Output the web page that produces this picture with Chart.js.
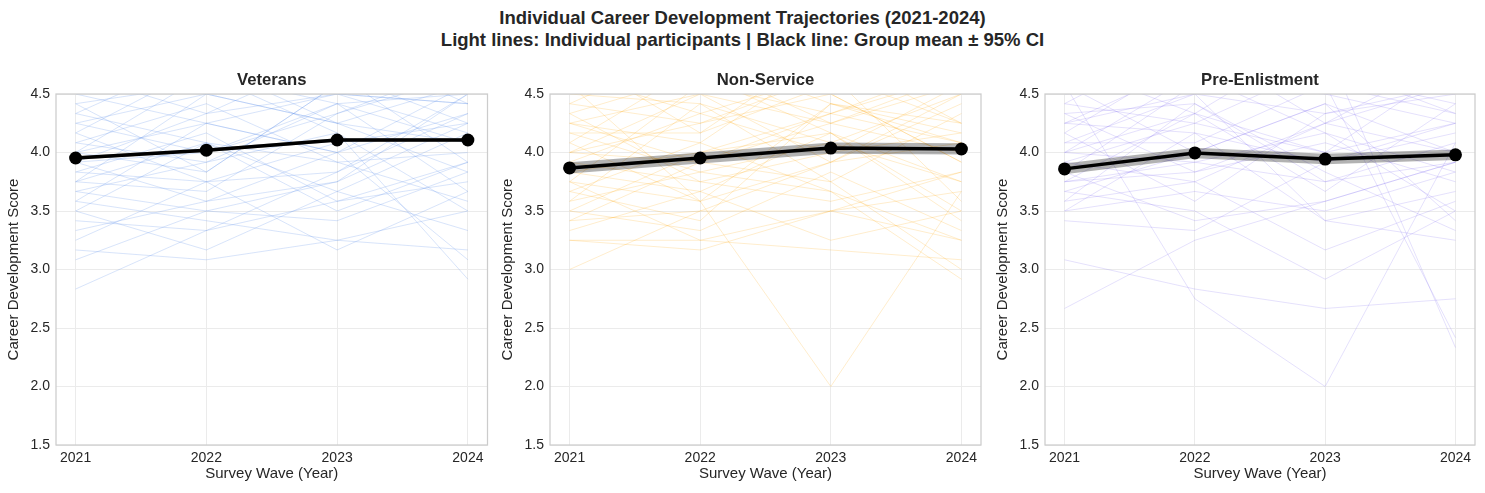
<!DOCTYPE html>
<html>
<head>
<meta charset="utf-8">
<script src="https://cdn.jsdelivr.net/npm/chart.js@4.4.0/dist/chart.umd.min.js"></script>
<style>
  body { margin: 0; background: #fff; }
  #page { position: relative; width: 1485px; height: 493px; font-family: "Liberation Sans", Arial, sans-serif; color: #262626; }
  .sup { position: absolute; left: 0; width: 1485px; text-align: center; font-weight: bold; font-size: 18.5px; line-height: 22px; }
  .panel { position: absolute; top: 60px; height: 433px; }
</style>
</head>
<body>
<div id="page">
  <div class="sup" style="top:7px">Individual Career Development Trajectories (2021-2024)</div>
  <div class="sup" style="top:29px">Light lines: Individual participants | Black line: Group mean ± 95% CI</div>
  <div class="panel" style="left:0;width:494px"><canvas id="panel0"></canvas></div>
  <div class="panel" style="left:494px;width:495px"><canvas id="panel1"></canvas></div>
  <div class="panel" style="left:989px;width:496px"><canvas id="panel2"></canvas></div>
</div>
<script>
const years = [2021, 2022, 2023, 2024];
const yTicks = [1.5, 2.0, 2.5, 3.0, 3.5, 4.0, 4.5];
const groupNames = ['Veterans', 'Non-Service', 'Pre-Enlistment'];

// individual participants, one row per person: 2021, 2022, 2023, 2024
const veteransLines = [
  [2.833, 3.333, 3.583, 3.917], [3.083, 3.5, 3.75, 4.25], [3.167, 3.083, 3.25, 3.5],
  [3.25, 3.75, 3.167, 3.667], [3.333, 3.583, 4.0, 3.083], [3.417, 3.333, 3.833, 4.5],
  [3.5, 4.083, 3.5, 3.917], [3.5, 3.167, 3.667, 3.333], [3.583, 4.25, 4.0, 4.333],
  [3.667, 3.917, 4.167, 2.917], [3.667, 3.5, 3.417, 3.833], [3.75, 4.5, 4.25, 4.083],
  [3.75, 3.667, 4.333, 4.667], [3.833, 4.167, 3.583, 3.75], [3.833, 3.75, 4.083, 4.25],
  [3.917, 4.333, 4.5, 4.167], [3.917, 3.583, 3.75, 4.5], [4.0, 4.667, 4.167, 3.5],
  [4.0, 3.833, 4.583, 4.833], [4.083, 4.417, 3.917, 4.0], [4.083, 3.917, 4.417, 3.667],
  [4.167, 4.75, 4.25, 4.583], [4.167, 3.75, 3.833, 4.333], [4.25, 4.5, 4.667, 3.917],
  [4.25, 4.0, 4.333, 4.75], [4.333, 4.833, 4.5, 4.417], [4.333, 4.083, 3.667, 4.167],
  [4.417, 3.833, 4.583, 5.0], [4.417, 4.583, 4.917, 4.417], [4.5, 4.25, 4.0, 4.583],
  [4.583, 5.0, 4.667, 4.25], [4.667, 4.333, 4.833, 4.917], [4.75, 4.5, 4.25, 3.833],
  [4.833, 4.917, 5.0, 4.667], [4.917, 4.667, 4.417, 4.5], [5.0, 4.75, 4.75, 5.0],
  [3.583, 3.417, 3.25, 3.167], [3.917, 4.0, 4.417, 4.083], [4.0, 4.25, 4.5, 4.417],
  [3.75, 4.083, 3.917, 3.583]
];
const nonServiceLines = [
  [3.0, 3.5, 3.917, 4.5], [3.25, 3.25, 3.167, 3.083], [3.25, 3.167, 3.5, 3.25],
  [3.417, 3.5, 3.5, 3.667], [3.417, 3.917, 4.25, 4.583], [3.5, 3.333, 3.833, 3.333],
  [3.583, 4.417, 3.75, 3.0], [3.583, 3.833, 4.083, 3.75], [3.667, 3.417, 4.417, 4.25],
  [3.667, 4.083, 3.667, 2.917], [3.75, 3.583, 3.917, 4.083], [3.75, 4.583, 4.5, 3.917],
  [3.833, 3.667, 4.167, 3.5], [3.833, 4.0, 4.333, 4.75], [3.917, 3.75, 3.583, 3.833],
  [3.917, 4.333, 4.0, 4.167], [4.0, 4.25, 4.667, 3.583], [4.0, 3.917, 3.75, 4.333],
  [4.083, 4.75, 4.25, 4.0], [4.083, 3.583, 4.417, 4.083], [4.167, 4.167, 4.583, 4.833],
  [4.167, 3.833, 3.667, 3.25], [4.25, 4.5, 3.917, 4.417], [4.25, 4.083, 4.833, 4.25],
  [4.333, 4.667, 4.167, 3.75], [4.333, 3.75, 4.0, 4.583], [4.417, 4.917, 4.75, 4.917],
  [4.417, 4.25, 4.5, 3.917], [4.5, 4.417, 4.083, 4.5], [4.583, 3.583, 2.0, 3.667],
  [4.667, 4.333, 4.667, 4.25], [4.75, 4.583, 4.333, 4.667], [4.833, 4.167, 4.917, 5.0],
  [5.0, 4.833, 4.417, 4.167], [4.917, 5.0, 5.0, 4.75], [3.333, 3.667, 3.25, 3.5],
  [3.5, 4.0, 4.167, 3.417], [4.0, 4.5, 4.25, 4.667], [3.75, 3.25, 3.5, 3.833],
  [4.25, 3.917, 4.333, 4.083]
];
const preEnlistmentLines = [
  [2.667, 3.25, 3.583, 3.917], [3.083, 2.833, 2.667, 2.75], [4.583, 2.75, 2.0, 4.083],
  [3.417, 3.333, 3.917, 4.25], [3.5, 4.167, 3.417, 3.25], [3.583, 3.75, 4.25, 4.583],
  [3.583, 4.417, 3.833, 3.333], [3.667, 3.5, 2.917, 3.5], [3.667, 4.0, 4.417, 4.0],
  [3.75, 4.333, 3.667, 4.417], [3.75, 3.833, 4.083, 3.75], [3.833, 3.417, 3.583, 3.917],
  [3.833, 4.583, 4.5, 4.25], [3.917, 3.75, 3.167, 3.583], [3.917, 4.25, 4.0, 4.75],
  [4.0, 4.667, 4.167, 3.833], [4.0, 3.917, 3.75, 4.083], [4.083, 4.083, 4.583, 4.333],
  [4.083, 4.5, 3.417, 3.667], [4.167, 3.583, 4.333, 4.5], [4.167, 4.833, 4.917, 2.333],
  [4.25, 4.167, 3.917, 4.167], [4.25, 4.75, 4.667, 4.917], [4.333, 4.417, 3.75, 3.917],
  [4.333, 3.833, 4.25, 4.0], [4.417, 5.0, 4.5, 4.667], [4.417, 4.25, 4.75, 4.333],
  [4.5, 4.583, 4.833, 4.5], [4.583, 4.0, 4.417, 3.417], [4.667, 4.917, 4.25, 4.833],
  [4.75, 4.333, 5.0, 4.75], [4.833, 4.667, 4.583, 2.417], [4.917, 5.0, 4.833, 5.0],
  [5.0, 4.75, 4.667, 4.417], [3.5, 3.667, 3.5, 3.833], [4.0, 4.333, 4.0, 4.25],
  [3.75, 3.917, 4.167, 3.5], [4.25, 4.5, 4.333, 4.583]
];

// group means and 95% CI bounds
const veteransMean = [3.953, 4.02, 4.107, 4.107];
const veteransCiLow = [3.938, 4.005, 4.092, 4.092];
const veteransCiHigh = [3.968, 4.035, 4.122, 4.122];
const nonServiceMean = [3.868, 3.953, 4.038, 4.03];
const nonServiceCiLow = [3.82, 3.905, 3.99, 3.982];
const nonServiceCiHigh = [3.916, 4.001, 4.086, 4.078];
const preEnlistmentMean = [3.86, 3.996, 3.944, 3.98];
const preEnlistmentCiLow = [3.815, 3.951, 3.899, 3.935];
const preEnlistmentCiHigh = [3.905, 4.041, 3.989, 4.025];

const lineColors = ['rgba(100,149,237,0.25)', 'rgba(255,165,0,0.2)', 'rgba(123,104,238,0.2)'];
const fontFamily = '"Liberation Sans", Arial, sans-serif';

const panels = [
  { lines: veteransLines, mean: veteransMean, lo: veteransCiLow, hi: veteransCiHigh, padRight: 6 },
  { lines: nonServiceLines, mean: nonServiceMean, lo: nonServiceCiLow, hi: nonServiceCiHigh, padRight: 8 },
  { lines: preEnlistmentLines, mean: preEnlistmentMean, lo: preEnlistmentCiLow, hi: preEnlistmentCiHigh, padRight: 10 },
];

const toPoints = (vals) => vals.map((v, i) => ({ x: years[i], y: v }));

// spines all round + panel title centred over the plot area (matplotlib style)
const frameBox = {
  id: 'frameBox',
  afterDatasetsDraw(chart) {
    const { ctx, chartArea: a } = chart;
    ctx.save();
    ctx.strokeStyle = '#cccccc';
    ctx.lineWidth = 1.25;
    ctx.strokeRect(a.left, a.top, a.right - a.left, a.bottom - a.top);
    ctx.restore();
  },
  afterDraw(chart, args, opts) {
    const { ctx, chartArea: a } = chart;
    ctx.save();
    ctx.font = 'bold 16.7px ' + fontFamily;
    ctx.fillStyle = '#262626';
    ctx.textAlign = 'center';
    ctx.textBaseline = 'middle';
    ctx.fillText(opts.text, (a.left + a.right) / 2, 20);
    ctx.restore();
  },
};

Chart.defaults.font.family = fontFamily;
Chart.defaults.color = '#262626';

panels.forEach((p, idx) => {
  const datasets = [];
  p.lines.forEach((row) => {
    datasets.push({
      data: toPoints(row),
      borderColor: lineColors[idx],
      borderWidth: 1,
      pointRadius: 0,
      fill: false,
      order: 3,
    });
  });
  datasets.push({
    data: toPoints(p.hi),
    borderWidth: 0,
    pointRadius: 0,
    fill: false,
    order: 2,
  });
  datasets.push({
    data: toPoints(p.lo),
    borderWidth: 0,
    pointRadius: 0,
    fill: '-1',
    backgroundColor: 'rgba(0,0,0,0.3)',
    order: 2,
  });
  datasets.push({
    data: toPoints(p.mean),
    borderColor: '#000000',
    borderWidth: 3.5,
    pointRadius: 6.5,
    pointBackgroundColor: '#000000',
    pointBorderWidth: 0,
    fill: false,
    order: 1,
  });

  new Chart(document.getElementById('panel' + idx), {
    type: 'line',
    data: { datasets },
    plugins: [frameBox],
    options: {
      responsive: true,
      maintainAspectRatio: false,
      animation: false,
      layout: { padding: { left: 0, right: p.padRight, top: 34, bottom: 0 } },
      plugins: {
        legend: { display: false },
        tooltip: { enabled: false },
        frameBox: { text: groupNames[idx] },
      },
      scales: {
        x: {
          type: 'linear',
          min: 2020.85,
          max: 2024.15,
          afterBuildTicks: (scale) => { scale.ticks = years.map((v) => ({ value: v })); },
          afterFit: (scale) => { scale.height = 48; },
          ticks: { font: { size: 14 }, color: '#262626', padding: 5, callback: (v) => String(v) },
          grid: { color: '#ebebeb', lineWidth: 1, drawTicks: false },
          border: { display: false },
          title: { display: true, text: 'Survey Wave (Year)', font: { size: 15 }, color: '#262626', padding: { top: 0, bottom: 10 } },
        },
        y: {
          min: 1.5,
          max: 4.5,
          afterBuildTicks: (scale) => { scale.ticks = yTicks.map((v) => ({ value: v })); },
          afterFit: (scale) => { scale.width = 56; },
          ticks: { font: { size: 14 }, color: '#262626', padding: 6, callback: (v) => Number(v).toFixed(1) },
          grid: { color: '#ebebeb', lineWidth: 1, drawTicks: false },
          border: { display: false },
          title: { display: true, text: 'Career Development Score', font: { size: 15 }, color: '#262626', padding: { top: 5, bottom: 0 } },
        },
      },
    },
  });
});
</script>
</body>
</html>
